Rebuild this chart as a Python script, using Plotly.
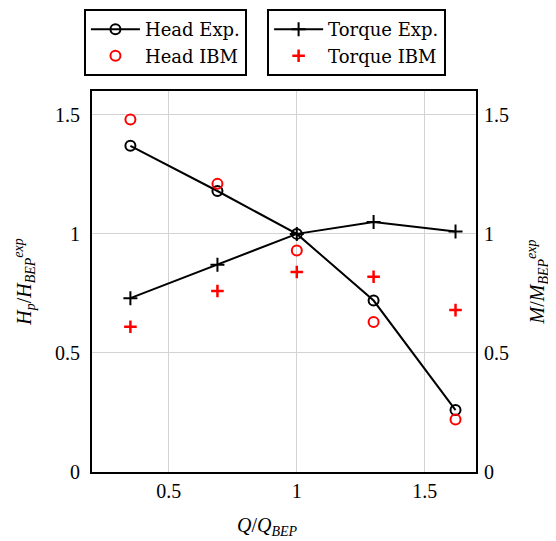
import plotly.graph_objects as go

q = [0.35, 0.69, 1.0, 1.3, 1.62]
head_exp = [1.37, 1.18, 1.0, 0.72, 0.26]
head_ibm = [1.48, 1.21, 0.93, 0.63, 0.22]
torque_exp = [0.73, 0.87, 1.0, 1.05, 1.01]
torque_ibm = [0.61, 0.76, 0.84, 0.82, 0.68]

x_ticks = [0.5, 1, 1.5]
x_ticklabels = ["0.5", "1", "1.5"]
y_ticks = [0, 0.5, 1, 1.5]
y_ticklabels = ["0", "0.5", "1", "1.5"]

FONT = "Liberation Serif"
LEG_FONT = "DejaVu Serif"

fig = go.Figure()
fig.add_trace(go.Scatter(x=q, y=head_exp, name="Head Exp.", mode="lines+markers",
                         line=dict(color="black", width=2),
                         marker=dict(symbol="circle-open", size=10, color="black", line=dict(width=2)),
                         legend="legend"))
fig.add_trace(go.Scatter(x=q, y=head_ibm, name="Head IBM", mode="markers",
                         marker=dict(symbol="circle-open", size=10, color="red", line=dict(width=2)),
                         legend="legend"))
fig.add_trace(go.Scatter(x=q, y=torque_exp, name="Torque Exp.", mode="lines+markers", yaxis="y2",
                         line=dict(color="black", width=2),
                         marker=dict(symbol="cross-thin-open", size=10, color="black", line=dict(width=2, color="black")),
                         legend="legend2"))
fig.add_trace(go.Scatter(x=q, y=torque_ibm, name="Torque IBM", mode="markers", yaxis="y2",
                         marker=dict(symbol="cross-thin-open", size=9, color="red", line=dict(width=2.5, color="red")),
                         legend="legend2"))

axis_common = dict(showgrid=True, gridcolor="#d3d3d3", gridwidth=1, zeroline=False,
                   showline=True, linecolor="black", linewidth=2, ticks="", automargin=False,
                   tickfont=dict(family=FONT, size=20, color="black"))

fig.update_layout(
    width=548, height=533,
    margin=dict(l=84, r=80, t=83, b=69, autoexpand=False),
    paper_bgcolor="white", plot_bgcolor="white",
    font=dict(family=FONT, size=20, color="black"),
    xaxis=dict(range=[0.2, 1.7], tickvals=x_ticks, ticktext=x_ticklabels, mirror=True, ticklabelstandoff=0,
               **axis_common),
    yaxis=dict(range=[0, 1.6], tickvals=y_ticks, ticktext=y_ticklabels, mirror=True, ticklabelstandoff=6,
               title=dict(text="<i>H<sub>p</sub></i>/<i>H<sub>BEP</sub><sup>exp</sup></i>", font=dict(family=FONT, size=20), standoff=18),
               **axis_common),
    yaxis2=dict(range=[0, 1.6], tickvals=y_ticks, ticktext=y_ticklabels, overlaying="y", side="right", ticklabelstandoff=2,
                title=dict(text="<i>M</i>/<i>M<sub>BEP</sub><sup>exp</sup></i>", font=dict(family=FONT, size=20), standoff=22),
                **{**axis_common, "showgrid": False}),
    legend=dict(x=-0.021, y=1.215, xanchor="left", yanchor="top", bordercolor="black", borderwidth=2,
                bgcolor="white", font=dict(family=LEG_FONT, size=18), tracegroupgap=0, itemwidth=49),
    legend2=dict(x=0.456, y=1.215, xanchor="left", yanchor="top", bordercolor="black", borderwidth=2,
                 bgcolor="white", font=dict(family=LEG_FONT, size=18), tracegroupgap=0, itemwidth=49),
    annotations=[dict(text="<i>Q</i>/<i>Q<sub>BEP</sub></i>", xref="paper", yref="paper",
                      x=0.456, y=-0.143, xanchor="center", yanchor="middle", showarrow=False,
                      font=dict(family=FONT, size=20))],
)

fig.write_html("out.html")
